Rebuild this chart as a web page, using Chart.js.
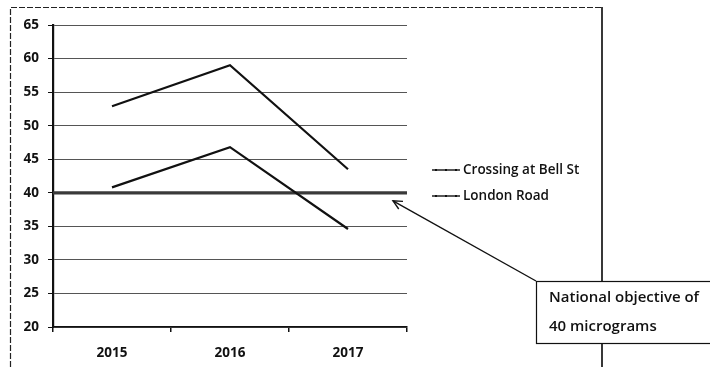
<!DOCTYPE html>
<html>
<head>
<meta charset="utf-8">
<title>NO2 annual mean</title>
<script src="https://cdn.jsdelivr.net/npm/chart.js@4.4.1/dist/chart.umd.min.js"></script>
<style>
  html, body { margin: 0; padding: 0; background: #fff; }
  #wrap { position: relative; width: 710px; height: 367px; }
  canvas { display: block; }
</style>
</head>
<body>
<div id="wrap"><canvas id="c" width="710" height="367"></canvas></div>
<script>
// Annual mean NO2 readings (micrograms per cubic metre)
const years = ['2015', '2016', '2017'];
const bellStreet = [52.9, 59.0, 43.5];
const londonRoad = [40.8, 46.8, 34.6];
const seriesNames = ['Crossing at Bell St', 'London Road'];
const objectiveValue = 40;
const objectiveNote = ['National objective of', '40 micrograms'];
const yTicks = [20, 25, 30, 35, 40, 45, 50, 55, 60, 65];

const FONT = '"Open Sans", Lato, sans-serif';

// Frame around the whole chart object
const framePlugin = {
  id: 'frame',
  beforeDraw(chart) {
    const ctx = chart.ctx;
    ctx.save();
    ctx.strokeStyle = '#222';
    ctx.lineWidth = 1.2;
    ctx.setLineDash([6, 2]);
    ctx.beginPath();
    ctx.moveTo(10.5, 367);
    ctx.lineTo(10.5, 7.5);
    ctx.lineTo(602, 7.5);
    ctx.stroke();
    ctx.setLineDash([]);
    ctx.lineWidth = 1.8;
    ctx.beginPath();
    ctx.moveTo(602, 7);
    ctx.lineTo(602, 367);
    ctx.stroke();
    ctx.restore();
  }
};

// Heavy reference line at the national objective
const objectivePlugin = {
  id: 'objective',
  beforeDatasetsDraw(chart) {
    const { ctx, chartArea, scales } = chart;
    const y = scales.y.getPixelForValue(objectiveValue);
    ctx.save();
    ctx.strokeStyle = '#3a3a3a';
    ctx.lineWidth = 3.2;
    ctx.beginPath();
    ctx.moveTo(chartArea.left, y);
    ctx.lineTo(chartArea.right, y);
    ctx.stroke();
    ctx.restore();
  }
};

// Series key to the right of the plot
const keyPlugin = {
  id: 'key',
  afterDraw(chart) {
    const { ctx, chartArea } = chart;
    const x0 = chartArea.right + 25;
    const yMid = (chartArea.top + chartArea.bottom) / 2;
    ctx.save();
    chart.data.datasets.forEach((ds, i) => {
      const y = yMid - 6 + i * 26;
      ctx.strokeStyle = '#111';
      ctx.lineWidth = 1.4;
      ctx.beginPath();
      ctx.moveTo(x0, y);
      ctx.lineTo(x0 + 28, y);
      ctx.stroke();
      ctx.fillStyle = '#111';
      [x0 + 4, x0 + 14, x0 + 24].forEach(px => {
        ctx.fillRect(px - 1, y - 1, 2, 2);
      });
      ctx.font = '600 13.5px ' + FONT;
      ctx.textBaseline = 'middle';
      ctx.textAlign = 'left';
      ctx.fillText(ds.label, x0 + 31, y);
    });
    ctx.restore();
  }
};

// Callout box with arrow pointing at the objective line
const calloutPlugin = {
  id: 'callout',
  afterDraw(chart) {
    const { ctx, chartArea, scales } = chart;
    const tipX = chartArea.right - 14;
    const tipY = scales.y.getPixelForValue(objectiveValue) + 8;
    const bx = 536, by = 281, bw = 180, bh = 62;
    ctx.save();
    ctx.strokeStyle = '#111';
    ctx.lineWidth = 1.4;
    ctx.beginPath();
    ctx.moveTo(bx, by);
    ctx.lineTo(tipX, tipY);
    ctx.stroke();
    const ang = Math.atan2(by - tipY, bx - tipX);
    const L = 10;
    ctx.beginPath();
    ctx.moveTo(tipX + L * Math.cos(ang + 0.45), tipY + L * Math.sin(ang + 0.45));
    ctx.lineTo(tipX, tipY);
    ctx.lineTo(tipX + L * Math.cos(ang - 0.45), tipY + L * Math.sin(ang - 0.45));
    ctx.stroke();
    ctx.fillStyle = '#fff';
    ctx.fillRect(bx, by, bw, bh);
    ctx.lineWidth = 1.2;
    ctx.strokeRect(bx + 0.5, by + 0.5, bw, bh);
    ctx.fillStyle = '#111';
    ctx.font = '600 15px ' + FONT;
    ctx.textBaseline = 'middle';
    ctx.textAlign = 'left';
    ctx.fillText(objectiveNote[0], bx + 13, by + 17);
    ctx.fillText(objectiveNote[1], bx + 13, by + 46);
    ctx.restore();
  }
};

new Chart(document.getElementById('c'), {
  type: 'line',
  data: {
    labels: years,
    datasets: [
      { label: seriesNames[0], data: bellStreet },
      { label: seriesNames[1], data: londonRoad }
    ]
  },
  options: {
    responsive: false,
    animation: false,
    devicePixelRatio: 1,
    layout: { padding: { top: 25, right: 303, bottom: 0, left: 0 } },
    elements: {
      line: { borderColor: '#111', borderWidth: 2.2, tension: 0 },
      point: { radius: 0 }
    },
    plugins: {
      legend: { display: false },
      tooltip: { enabled: false }
    },
    scales: {
      x: {
        offset: true,
        afterFit(s) { s.height = 40; },
        grid: {
          offset: true,
          drawOnChartArea: false,
          drawTicks: true,
          tickLength: 5,
          color: '#111',
          lineWidth: 1.5
        },
        border: { color: '#111', width: 1.6 },
        ticks: {
          padding: 13,
          color: '#111',
          font: { family: FONT, size: 13.5, weight: 'bold' }
        }
      },
      y: {
        min: 20,
        max: 65,
        afterFit(s) { s.width = 53; },
        afterBuildTicks(s) { s.ticks = yTicks.map(v => ({ value: v })); },
        grid: {
          color: '#555',
          lineWidth: 1,
          tickLength: 5,
          tickColor: '#111'
        },
        border: { color: '#111', width: 2.2 },
        ticks: {
          padding: 9,
          color: '#111',
          font: { family: FONT, size: 13.5, weight: 'bold' }
        }
      }
    }
  },
  plugins: [framePlugin, objectivePlugin, keyPlugin, calloutPlugin]
});
</script>
</body>
</html>
